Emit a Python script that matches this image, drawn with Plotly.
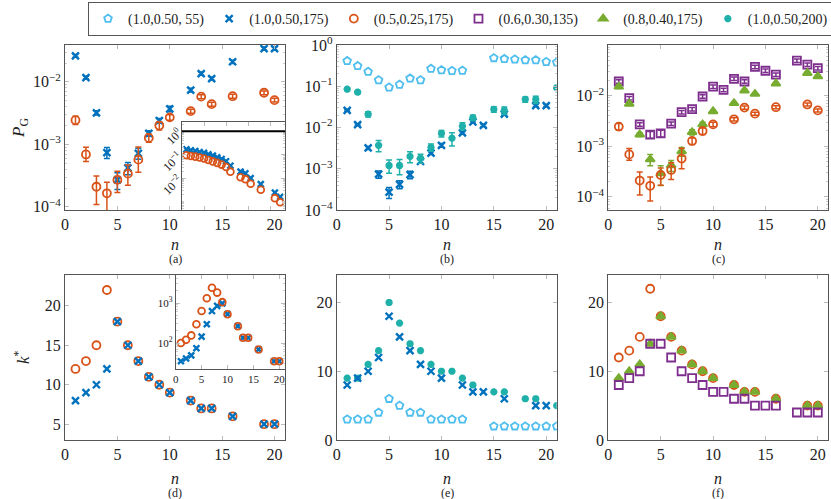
import plotly.graph_objects as go

# ---- data ----
n_std = [1, 2, 3, 4, 5, 6, 7, 8, 9, 10, 12, 13, 14, 16, 19, 20]
n55 = [1, 2, 3, 4, 5, 6, 7, 8, 9, 10, 11, 12, 15, 16, 17, 18, 19, 20, 21]
n135 = [1, 2, 3, 4, 5, 6, 7, 8, 9, 10, 11, 12, 13, 14, 15, 16, 18, 19, 20]
n200 = [1, 2, 3, 4, 5, 6, 7, 8, 9, 10, 11, 12, 13, 15, 16, 18, 19, 21]

# P_G
pg55 = [0.41, 0.31, 0.225, 0.141, 0.094, 0.11, 0.155, 0.141, 0.266, 0.246,
        0.237, 0.24, 0.484, 0.46, 0.45, 0.43, 0.43, 0.39, 0.38]
pg175 = [0.026, 0.0117, 0.0032, 0.00074, 0.00027, 0.00042, 0.00072, 0.0015,
         0.0024, 0.0037, 0.0074, 0.0136, 0.0113, 0.021, 0.034, 0.034]
pg_half = [0.00244, 0.00069, 0.00021, 0.000165, 0.00027, 0.00034, 0.00057,
           0.00127, 0.002, 0.0027, 0.0034, 0.0058, 0.0044, 0.0059, 0.0067, 0.0051]
pg135 = [0.019, 0.0089, 0.0027, 0.0017, 0.0018, 0.0028, 0.0047, 0.0054, 0.0096,
         0.015, 0.013, 0.0215, 0.019, 0.037, 0.031, 0.026, 0.049, 0.041, 0.035]
pg_tri = [0.015, 0.0069, 0.0017, 0.00055, 0.00029, 0.00042, 0.00079, 0.0019,
          0.0027, 0.0049, 0.0071, 0.0126, 0.0108, 0.0173, 0.028, 0.024]
pg200 = [0.085, 0.072, 0.021, 0.0037, 0.0012, 0.0012, 0.002, 0.0018, 0.0033,
         0.0072, 0.0055, 0.0108, 0.0173, 0.0275, 0.026, 0.048, 0.048, 0.092]

# relative error bars
err175 = [0.05, 0.05, 0.08, 0.2, 0.3, 0.22, 0.2, 0.1, 0.08, 0.1, 0.07, 0.06, 0.06, 0.06, 0.06, 0.06]
err_half_up = [0.15, 0.3, 0.48, 0.5, 0.37, 0.38, 0.6, 0.15, 0.15, 0.1, 0.07, 0.07, 0.07, 0.07, 0.07, 0.07]
err_half_dn = [0.15, 0.23, 0.48, 0.5, 0.37, 0.35, 0.37, 0.15, 0.15, 0.1, 0.07, 0.07, 0.07, 0.07, 0.07, 0.07]
err135 = [0.08, 0.08, 0.08, 0.15, 0.15, 0.08, 0.08, 0.08, 0.08, 0.08, 0.08, 0.08,
          0.08, 0.08, 0.08, 0.08, 0.08, 0.08, 0.08]
err_tri = [0.08, 0.08, 0.08, 0.25, 0.42, 0.25, 0.2, 0.12, 0.1, 0.06, 0.06, 0.06, 0.06, 0.06, 0.06, 0.06]
err200 = [0.08, 0.08, 0.15, 0.3, 0.35, 0.4, 0.3, 0.25, 0.2, 0.18, 0.35, 0.2, 0.15,
          0.15, 0.2, 0.15, 0.2, 0.05]

# k*
k55 = [3, 3, 3, 4, 6, 5, 4, 4, 3, 3, 3, 3, 2, 2, 2, 2, 2, 2, 2]
k175 = [8, 9, 10, 12, 18, 15, 13, 11, 10, 9, 8, 7, 7, 6, 5, 5]
k_half = [12, 13, 15, 22, 18, 15, 13, 11, 10, 9, 8, 7, 7, 6, 5, 5]
k135 = [8, 9, 10, 14, 14, 12, 10, 9, 8, 7, 7, 6, 6, 5, 5, 5, 4, 4, 4]
k_tri = [9, 10, 11, 14, 18, 15, 13, 11, 10, 9, 8, 7, 7, 6, 5, 5]
k200 = [9, 9, 11, 13, 20, 17, 14, 13, 11, 10, 10, 9, 8, 7, 7, 6, 6, 5]

# inset of (a)
ins_a_x = [1, 2, 3, 4, 5, 6, 7, 8, 9, 10, 11, 13.3, 14.4, 15.6, 17.9, 21.1, 22.3]
ins_a_cross = [0.17, 0.155, 0.145, 0.13, 0.12, 0.105, 0.092, 0.078, 0.066, 0.053,
               0.034, 0.019, 0.016, 0.010, 0.0056, 0.0024, 0.0016]
ins_a_circle = [0.095, 0.089, 0.083, 0.076, 0.069, 0.060, 0.052, 0.045, 0.038, 0.030,
                0.019, 0.011, 0.0091, 0.0058, 0.0032, 0.0014, 0.00093]

# inset of (d)
ins_d_cross = [35, 41, 49, 74, 144, 295, 630, 850, 980, 525, 263, 135, 135, 69, 35, 35]
ins_d_circle = [100, 120, 155, 295, 630, 1320, 2400, 1820, 1050, 525, 263, 135, 135, 69, 35, 35]

labels = ["(1.0,0.50, 55)", "(1.0,0.50,175)", "(0.5,0.25,175)",
          "(0.6,0.30,135)", "(0.8,0.40,175)", "(1.0,0.50,200)"]

C55 = "#4DBEEE"
C175 = "#0072BD"
CHALF = "#D95319"
C135 = "#7E2F8E"
CTRI = "#77AC30"
C200 = "#1FB0AA"

FONT = "Liberation Serif, DejaVu Serif, serif"
W, H = 831, 499


def px_x(a, b):
    return [a / W, b / W]


def px_y(top, bottom):
    return [1 - bottom / H, 1 - top / H]


shown = set()


def marker(sym, color, size=8, lw=1.8):
    if sym in ("x-thin", "asterisk-open"):
        return dict(symbol=sym, size=size, color=color, line=dict(color=color, width=2.4))
    return dict(symbol=sym, size=size, color=color, line=dict(color=color, width=lw))


SIZES = {"x-thin": 7, "circle-open": 8, "square-open": 8, "triangle-up": 8,
         "pentagon-open": 8, "asterisk-open": 6}


def add(fig, x, y, idx, sym, color, ax, err_up=None, err_dn=None, scale=1.0):
    kw = {}
    if err_up is not None:
        dn = err_dn if err_dn is not None else err_up
        kw["error_y"] = dict(type="data", symmetric=False,
                             array=[v * e for v, e in zip(y, err_up)],
                             arrayminus=[v * e for v, e in zip(y, dn)],
                             color=color, thickness=1.5, width=3)
    first = idx not in shown
    shown.add(idx)
    fig.add_trace(go.Scatter(
        x=x, y=y, mode="markers", name=labels[idx], legendgroup=str(idx),
        showlegend=first, legendrank=idx + 1,
        marker=marker(sym, color, SIZES[sym] * scale), xaxis="x" + ax, yaxis="y" + ax, **kw))


fig = go.Figure()

# (a)
add(fig, n_std, pg175, 1, "x-thin", C175, "", err175)
add(fig, n_std, pg_half, 2, "circle-open", CHALF, "", err_half_up, err_half_dn)
# (b)
add(fig, n55, pg55, 0, "pentagon-open", C55, "2")
add(fig, n_std, pg175, 1, "x-thin", C175, "2", err175)
add(fig, n200, pg200, 5, "asterisk-open", C200, "2", err200)
# (c)
add(fig, n135, pg135, 3, "square-open", C135, "3", err135)
add(fig, n_std, pg_tri, 4, "triangle-up", CTRI, "3", err_tri)
add(fig, n_std, pg_half, 2, "circle-open", CHALF, "3", err_half_up, err_half_dn)
# (d)
add(fig, n_std, k_half, 2, "circle-open", CHALF, "4")
add(fig, n_std, k175, 1, "x-thin", C175, "4")
# (e)
add(fig, n55, k55, 0, "pentagon-open", C55, "5")
add(fig, n200, k200, 5, "asterisk-open", C200, "5")
add(fig, n_std, k175, 1, "x-thin", C175, "5")
# (f)
add(fig, n_std, k_half, 2, "circle-open", CHALF, "6")
add(fig, n_std, k_tri, 4, "triangle-up", CTRI, "6")
add(fig, n135, k135, 3, "square-open", C135, "6")
# insets
add(fig, ins_a_x, ins_a_cross, 1, "x-thin", C175, "7", scale=0.85)
add(fig, ins_a_x, ins_a_circle, 2, "circle-open", CHALF, "7", scale=0.85)
add(fig, n_std, ins_d_cross, 1, "x-thin", C175, "8", scale=0.85)
add(fig, n_std, ins_d_circle, 2, "circle-open", CHALF, "8", scale=0.85)


def sup(e):
    return "10<sup>%s</sup>" % (str(e).replace("-", "\u2212"))


def axis(domain, anchor, rng, log=False, tickvals=None, ticktext=None, size=16, **extra):
    d = dict(domain=domain, anchor=anchor, range=rng, showline=True, linecolor="#555",
             linewidth=1, mirror="ticks", ticks="inside", ticklen=4, tickcolor="#bbb",
             showgrid=False, zeroline=False,
             tickfont=dict(family=FONT, size=size, color="#222"))
    if log:
        d["type"] = "log"
        d["minor"] = dict(ticks="inside", ticklen=2, tickcolor="#ccc", dtick="D1")
    if tickvals is not None:
        d["tickvals"] = tickvals
        d["ticktext"] = ticktext
    d.update(extra)
    return d


xt = [0, 5, 10, 15, 20]
xtt = [str(v) for v in xt]
colA, colB, colC = px_x(65, 285), px_x(336.7, 556.7), px_x(608.3, 828.3)
rowT, rowB = px_y(45, 210), px_y(275, 440)

fig.update_layout(
    width=W, height=H, margin=dict(l=0, r=0, t=0, b=0, autoexpand=False),
    paper_bgcolor="white", plot_bgcolor="white",
    font=dict(family=FONT, size=14, color="#222"),
    xaxis=axis(colA, "y", [0, 21], tickvals=xt, ticktext=xtt),
    yaxis=axis(rowT, "x", [-4.05, -1.41], log=True, tickvals=[1e-4, 1e-3, 1e-2],
               ticktext=[sup(-4), sup(-3), sup(-2)]),
    xaxis2=axis(colB, "y2", [0, 21], tickvals=xt, ticktext=xtt),
    yaxis2=axis(rowT, "x2", [-4, 0], log=True, tickvals=[1e-4, 1e-3, 1e-2, 1e-1, 1],
                ticktext=[sup(-4), sup(-3), sup(-2), sup(-1), sup(0)]),
    xaxis3=axis(colC, "y3", [0, 21], tickvals=xt, ticktext=xtt),
    yaxis3=axis(rowT, "x3", [-4.26, -1.0], log=True, tickvals=[1e-4, 1e-3, 1e-2],
                ticktext=[sup(-4), sup(-3), sup(-2)]),
    xaxis4=axis(colA, "y4", [0, 21], tickvals=xt, ticktext=xtt),
    yaxis4=axis(rowB, "x4", [3, 23.9], tickvals=[5, 10, 15, 20], ticktext=["5", "10", "15", "20"]),
    xaxis5=axis(colB, "y5", [0, 21], tickvals=xt, ticktext=xtt),
    yaxis5=axis(rowB, "x5", [0, 24], tickvals=[0, 10, 20], ticktext=["0", "10", "20"]),
    xaxis6=axis(colC, "y6", [0, 21], tickvals=xt, ticktext=xtt),
    yaxis6=axis(rowB, "x6", [0, 24], tickvals=[0, 10, 20], ticktext=["0", "10", "20"]),
    xaxis7=axis(px_x(182, 285), "y7", [0, 23.4], showticklabels=False, tickvals=xt),
    yaxis7=axis(px_y(122, 210), "x7", [-3.36, 0.4], log=True, size=12,
                tickvals=[1e-2, 1e-1, 1], ticktext=[sup(-2), sup(-1), sup(0)], tickangle=-45),
    xaxis8=axis(px_x(175.7, 285), "y8", [0, 21.1], size=11, tickvals=xt, ticktext=xtt),
    yaxis8=axis(px_y(275, 369), "x8", [1.35, 3.7], log=True, size=11,
                tickvals=[100, 1000], ticktext=[sup(2), sup(3)]),
    legend=dict(orientation="h", x=88 / W, y=1 - 2 / H, xanchor="left", yanchor="top",
                bordercolor="#555", borderwidth=1, font=dict(family=FONT, size=14),
                bgcolor="white", itemwidth=30, tracegroupgap=0),
)

# reference line inside inset (a)
fig.add_shape(type="line", xref="x7 domain", yref="y7", x0=0, x1=1, y0=1, y1=1,
              line=dict(color="black", width=2))

ann = []
for cx, tag_t, tag_b in [(175, "(a)", "(d)"), (447, "(b)", "(e)"), (718, "(c)", "(f)")]:
    ann.append(dict(x=cx / W, y=1 - 244 / H, text="<i>n</i>", size=16))
    ann.append(dict(x=cx / W, y=1 - 478 / H, text="<i>n</i>", size=16))
    ann.append(dict(x=cx / W, y=1 - 259 / H, text=tag_t, size=12))
    ann.append(dict(x=cx / W, y=1 - 493 / H, text=tag_b, size=12))
ann.append(dict(x=20 / W, y=1 - 128 / H, text="<i>P</i><sub>G</sub>", textangle=-90, size=17))
ann.append(dict(x=22 / W, y=1 - 357 / H, text="<i>k</i><sup>*</sup>", textangle=-90, size=17))
for a in ann:
    s = a.pop("size")
    a.update(xref="paper", yref="paper", showarrow=False, xanchor="center", yanchor="middle",
             font=dict(family=FONT, size=s, color="#222"))
fig.update_layout(annotations=ann)

fig.write_html("out.html", config={"displayModeBar": False},
               post_script="document.body.style.margin='0';")
